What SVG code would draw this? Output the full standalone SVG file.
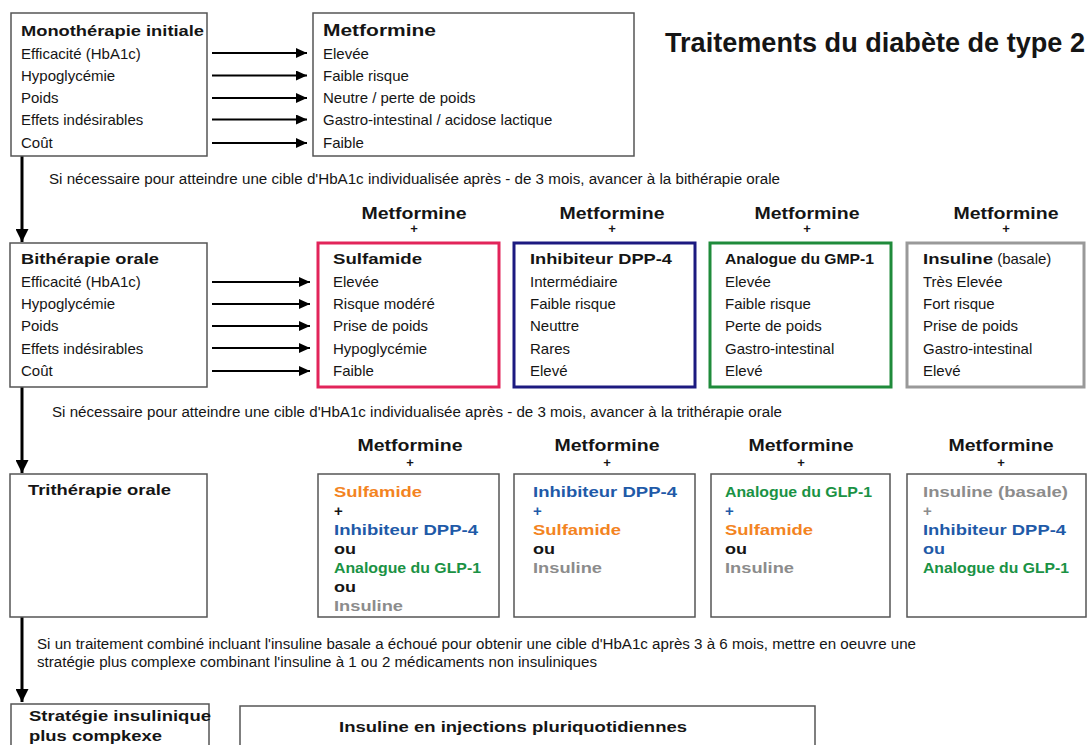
<svg xmlns="http://www.w3.org/2000/svg" width="1091" height="745" viewBox="0 0 1091 745">
<style>
.bg{fill:#fff}
.box{fill:#fff;stroke:#555;stroke-width:1.5}
.red{fill:#fff;stroke:#e2245a;stroke-width:3}
.navy{fill:#fff;stroke:#1c1a80;stroke-width:3}
.grn{fill:#fff;stroke:#1f8b3b;stroke-width:3}
.gry{fill:#fff;stroke:#999;stroke-width:3}
text{font-family:"Liberation Sans",Arial,sans-serif;font-size:15px;fill:#151515}
.b{font-weight:bold}
.lbl{font-size:17px;font-weight:bold;text-anchor:middle}
.pl{font-size:13px;font-weight:bold;text-anchor:middle}
.note{font-size:14px}
.or{fill:#f3841f}
.bl{fill:#1f5aa8}
.gr{fill:#1a9244}
.gy{fill:#8c8c8c}
.h{stroke:#000;stroke-width:2;marker-end:url(#ah)}
.v{stroke:#000;stroke-width:3;marker-end:url(#av)}
</style>
<defs>
<marker id="ah" markerUnits="userSpaceOnUse" markerWidth="11" markerHeight="10" refX="11" refY="5" orient="auto"><path d="M0,0 L11,5 L0,10 z" fill="#000"/></marker>
<marker id="av" markerUnits="userSpaceOnUse" markerWidth="13" markerHeight="13" refX="13" refY="6.5" orient="auto"><path d="M0,0 L13,6.5 L0,13 z" fill="#000"/></marker>
</defs>
<rect class="bg" x="0" y="0" width="1091" height="745"/>

<text id="title" class="b" x="665" y="52" font-size="27" style="font-size:27px" textLength="420" lengthAdjust="spacingAndGlyphs">Traitements du diabète de type 2</text>

<g id="connectors">
<line class="h" x1="212" y1="53" x2="307" y2="53"/>
<line class="h" x1="212" y1="75.5" x2="307" y2="75.5"/>
<line class="h" x1="212" y1="98" x2="307" y2="98"/>
<line class="h" x1="212" y1="119.5" x2="307" y2="119.5"/>
<line class="h" x1="212" y1="143" x2="307" y2="143"/>
<line class="h" x1="212" y1="282" x2="310" y2="282"/>
<line class="h" x1="212" y1="304" x2="310" y2="304"/>
<line class="h" x1="212" y1="326" x2="310" y2="326"/>
<line class="h" x1="212" y1="348" x2="310" y2="348"/>
<line class="h" x1="212" y1="371" x2="310" y2="371"/>
<line class="v" x1="22" y1="156" x2="22" y2="242"/>
<line class="v" x1="22" y1="387" x2="22" y2="473"/>
<line class="v" x1="22" y1="617" x2="22" y2="702"/>
</g>

<g id="mono">
<rect class="box" x="11" y="13" width="196" height="143"/>
<text class="b" x="21" y="36" textLength="183" lengthAdjust="spacingAndGlyphs">Monothérapie initiale</text>
<text x="21" y="58.5">Efficacité (HbA1c)</text>
<text x="21" y="81">Hypoglycémie</text>
<text x="21" y="103">Poids</text>
<text x="21" y="125">Effets indésirables</text>
<text x="21" y="148">Coût</text>
</g>

<g id="metformine">
<rect class="box" x="313" y="13" width="321" height="143"/>
<text class="b" x="323" y="36" style="font-size:17px" textLength="113" lengthAdjust="spacingAndGlyphs">Metformine</text>
<text x="323" y="58.5">Elevée</text>
<text x="323" y="81">Faible risque</text>
<text x="323" y="103">Neutre / perte de poids</text>
<text x="323" y="125">Gastro-intestinal / acidose lactique</text>
<text x="323" y="148">Faible</text>
</g>

<text id="note1" class="note" x="49" y="184" textLength="731" lengthAdjust="spacingAndGlyphs">Si nécessaire pour atteindre une cible d'HbA1c individualisée après - de 3 mois, avancer à la bithérapie orale</text>

<g id="bi">
<rect class="box" x="10" y="243" width="197" height="144"/>
<text class="b" x="21" y="264" textLength="138" lengthAdjust="spacingAndGlyphs">Bithérapie orale</text>
<text x="21" y="287">Efficacité (HbA1c)</text>
<text x="21" y="309">Hypoglycémie</text>
<text x="21" y="331">Poids</text>
<text x="21" y="354">Effets indésirables</text>
<text x="21" y="376">Coût</text>
</g>

<g id="bi-sulfamide">
<text class="lbl" x="414" y="219" textLength="105" lengthAdjust="spacingAndGlyphs">Metformine</text>
<text class="pl" x="414" y="233">+</text>
<rect class="red" x="318" y="243" width="181" height="144"/>
<text class="b" x="333" y="264" textLength="89" lengthAdjust="spacingAndGlyphs">Sulfamide</text>
<text x="333" y="287">Elevée</text>
<text x="333" y="309">Risque modéré</text>
<text x="333" y="331">Prise de poids</text>
<text x="333" y="354">Hypoglycémie</text>
<text x="333" y="376">Faible</text>
</g>

<g id="bi-dpp4">
<text class="lbl" x="612" y="219" textLength="105" lengthAdjust="spacingAndGlyphs">Metformine</text>
<text class="pl" x="612" y="233">+</text>
<rect class="navy" x="514" y="243" width="181" height="144"/>
<text class="b" x="530" y="264" textLength="142" lengthAdjust="spacingAndGlyphs">Inhibiteur DPP-4</text>
<text x="530" y="287">Intermédiaire</text>
<text x="530" y="309">Faible risque</text>
<text x="530" y="331">Neuttre</text>
<text x="530" y="354">Rares</text>
<text x="530" y="376">Elevé</text>
</g>

<g id="bi-glp1">
<text class="lbl" x="807" y="219" textLength="105" lengthAdjust="spacingAndGlyphs">Metformine</text>
<text class="pl" x="807" y="233">+</text>
<rect class="grn" x="710" y="243" width="181" height="144"/>
<text class="b" x="725" y="264" textLength="149" lengthAdjust="spacingAndGlyphs">Analogue du GMP-1</text>
<text x="725" y="287">Elevée</text>
<text x="725" y="309">Faible risque</text>
<text x="725" y="331">Perte de poids</text>
<text x="725" y="354">Gastro-intestinal</text>
<text x="725" y="376">Elevé</text>
</g>

<g id="bi-insuline">
<text class="lbl" x="1006" y="219" textLength="105" lengthAdjust="spacingAndGlyphs">Metformine</text>
<text class="pl" x="1006" y="233">+</text>
<rect class="gry" x="907" y="243" width="177" height="144"/>
<text x="923" y="264"><tspan class="b" textLength="70" lengthAdjust="spacingAndGlyphs">Insuline</tspan> (basale)</text>
<text x="923" y="287">Très Elevée</text>
<text x="923" y="309">Fort risque</text>
<text x="923" y="331">Prise de poids</text>
<text x="923" y="354">Gastro-intestinal</text>
<text x="923" y="376">Elevé</text>
</g>

<text id="note2" class="note" x="52" y="417" textLength="730" lengthAdjust="spacingAndGlyphs">Si nécessaire pour atteindre une cible d'HbA1c individualisée après - de 3 mois, avancer à la trithérapie orale</text>

<g id="tri">
<rect class="box" x="10" y="474" width="197" height="143"/>
<text class="b" x="28" y="495" textLength="143" lengthAdjust="spacingAndGlyphs">Trithérapie orale</text>
</g>

<g id="tri-1">
<text class="lbl" x="410" y="451" textLength="105" lengthAdjust="spacingAndGlyphs">Metformine</text>
<text class="pl" x="410" y="467">+</text>
<rect class="box" x="318" y="474" width="181" height="143"/>
<text class="b or" x="334" y="497" textLength="88" lengthAdjust="spacingAndGlyphs">Sulfamide</text>
<text class="b" x="334" y="516">+</text>
<text class="b bl" x="334" y="535" textLength="144" lengthAdjust="spacingAndGlyphs">Inhibiteur DPP-4</text>
<text class="b" x="334" y="554" textLength="22" lengthAdjust="spacingAndGlyphs">ou</text>
<text class="b gr" x="334" y="573" textLength="147" lengthAdjust="spacingAndGlyphs">Analogue du GLP-1</text>
<text class="b" x="334" y="592" textLength="22" lengthAdjust="spacingAndGlyphs">ou</text>
<text class="b gy" x="334" y="611" textLength="69" lengthAdjust="spacingAndGlyphs">Insuline</text>
</g>

<g id="tri-2">
<text class="lbl" x="607" y="451" textLength="105" lengthAdjust="spacingAndGlyphs">Metformine</text>
<text class="pl" x="607" y="467">+</text>
<rect class="box" x="514" y="474" width="181" height="143"/>
<text class="b bl" x="533" y="497" textLength="144" lengthAdjust="spacingAndGlyphs">Inhibiteur DPP-4</text>
<text class="b bl" x="533" y="516">+</text>
<text class="b or" x="533" y="535" textLength="88" lengthAdjust="spacingAndGlyphs">Sulfamide</text>
<text class="b" x="533" y="554" textLength="22" lengthAdjust="spacingAndGlyphs">ou</text>
<text class="b gy" x="533" y="573" textLength="69" lengthAdjust="spacingAndGlyphs">Insuline</text>
</g>

<g id="tri-3">
<text class="lbl" x="801" y="451" textLength="105" lengthAdjust="spacingAndGlyphs">Metformine</text>
<text class="pl" x="801" y="467">+</text>
<rect class="box" x="711" y="474" width="179" height="143"/>
<text class="b gr" x="725" y="497" textLength="147" lengthAdjust="spacingAndGlyphs">Analogue du GLP-1</text>
<text class="b bl" x="725" y="516">+</text>
<text class="b or" x="725" y="535" textLength="88" lengthAdjust="spacingAndGlyphs">Sulfamide</text>
<text class="b" x="725" y="554" textLength="22" lengthAdjust="spacingAndGlyphs">ou</text>
<text class="b gy" x="725" y="573" textLength="69" lengthAdjust="spacingAndGlyphs">Insuline</text>
</g>

<g id="tri-4">
<text class="lbl" x="1001" y="451" textLength="105" lengthAdjust="spacingAndGlyphs">Metformine</text>
<text class="pl" x="1001" y="467">+</text>
<rect class="box" x="907" y="474" width="179" height="143"/>
<text class="b gy" x="923" y="497" textLength="145" lengthAdjust="spacingAndGlyphs">Insuline (basale)</text>
<text class="b gy" x="923" y="516">+</text>
<text class="b bl" x="923" y="535" textLength="143" lengthAdjust="spacingAndGlyphs">Inhibiteur DPP-4</text>
<text class="b bl" x="923" y="554" textLength="22" lengthAdjust="spacingAndGlyphs">ou</text>
<text class="b gr" x="923" y="573" textLength="146" lengthAdjust="spacingAndGlyphs">Analogue du GLP-1</text>
</g>

<text id="note3" class="note" x="37" y="649" textLength="879" lengthAdjust="spacingAndGlyphs">Si un traitement combiné incluant l'insuline basale a échoué pour obtenir une cible d'HbA1c après 3 à 6 mois, mettre en oeuvre une</text>
<text id="note4" class="note" x="37" y="667" textLength="560" lengthAdjust="spacingAndGlyphs">stratégie plus complexe combinant l'insuline à 1 ou 2 médicaments non insuliniques</text>

<g id="strategie">
<rect class="box" x="11" y="704" width="198" height="60"/>
<text class="b" x="29" y="721" textLength="182" lengthAdjust="spacingAndGlyphs">Stratégie insulinique</text>
<text class="b" x="29" y="741" textLength="133" lengthAdjust="spacingAndGlyphs">plus compkexe</text>
</g>

<g id="injections">
<rect class="box" x="240" y="706" width="575" height="60"/>
<text class="b" x="339" y="732" textLength="348" lengthAdjust="spacingAndGlyphs">Insuline en injections pluriquotidiennes</text>
</g>
</svg>
